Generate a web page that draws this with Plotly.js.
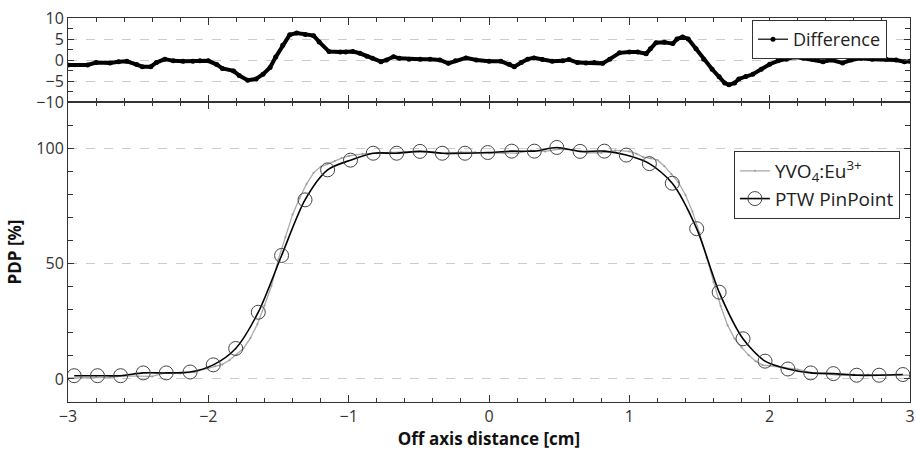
<!DOCTYPE html>
<html>
<head>
<meta charset="utf-8">
<script src="https://cdn.plot.ly/plotly-3.0.1.min.js"></script>
<style>html,body{margin:0;padding:0;background:#fff;}#chart{width:916px;height:454px;}</style>
</head>
<body>
<div id="chart"></div>
<script>
// Difference (top panel)
const diffX = [-3.0,-2.86,-2.80,-2.70,-2.64,-2.58,-2.51,-2.47,-2.41,-2.37,-2.31,-2.25,-2.18,-2.11,-2.06,-2.0,-1.94,-1.90,-1.82,-1.78,-1.72,-1.66,-1.61,-1.56,-1.52,-1.47,-1.42,-1.37,-1.31,-1.25,-1.21,-1.14,-1.06,-1.02,-0.97,-0.92,-0.87,-0.83,-0.77,-0.73,-0.68,-0.64,-0.57,-0.49,-0.42,-0.35,-0.29,-0.24,
  -0.164,-0.09,0,0.085,0.145,0.18,0.23,0.275,0.32,0.38,0.45,0.525,0.57,0.63,0.69,0.75,0.81,0.86,0.93,1.0,1.06,1.12,1.15,1.19,1.25,1.31,1.34,1.38,1.42,1.475,1.53,1.59,1.64,1.68,1.71,1.75,1.78,1.83,1.88,1.94,2.0,2.06,2.12,2.18,2.24,2.31,2.38,2.44,2.52,2.58,2.65,2.73,2.83,2.90,2.96,3.0];
const diffY = [-1.2,-1.2,-0.6,-0.7,-0.4,-0.3,-1.1,-1.6,-1.6,-0.6,0.2,-0.2,-0.3,-0.3,-0.2,-0.2,-1.1,-2.0,-2.6,-3.7,-4.8,-4.5,-3.4,-1.8,0.7,3.5,6.0,6.4,6.1,5.8,4.3,2.0,1.9,1.9,2.0,1.6,0.9,0.4,-0.4,0,0.8,0.4,0.2,0.2,0.2,0,-0.8,-0.2,
  0.5,0,-0.3,-0.3,-1.0,-1.6,-0.6,0.2,0.5,0.1,-0.3,-0.2,0.1,-0.6,-0.7,-0.6,-0.8,0.2,1.7,1.9,1.9,1.5,2.7,4.1,4.2,3.9,5.0,5.5,5.0,2.7,0.2,-2.2,-4.0,-5.5,-5.9,-5.5,-4.5,-3.9,-3.4,-2.2,-1.0,-0.2,0.2,0.7,0.4,0.1,-0.4,0,-0.7,0,0.4,0.2,0.2,0,-0.4,-0.3];

// YVO4:Eu3+ (bottom panel, grey)
const yvoX = [-3.0,-2.9,-2.8,-2.7,-2.6,-2.5,-2.4,-2.3,-2.2,-2.1,-2.0,
  -1.95,-1.9,-1.85,-1.8,-1.75,-1.7,-1.65,-1.6,-1.55,-1.5,-1.45,-1.4,-1.35,-1.3,-1.25,-1.2,-1.15,-1.1,-1.05,-1.0,
  -0.9,-0.8,-0.7,-0.6,-0.5,-0.4,-0.3,-0.2,-0.1,0,0.1,0.2,0.3,0.4,0.5,0.6,0.7,0.8,0.9,
  1.0,1.05,1.1,1.15,1.2,1.25,1.3,1.35,1.4,1.45,1.5,1.55,1.6,1.65,1.7,1.75,1.8,1.85,1.9,1.95,2.0,
  2.1,2.2,2.3,2.4,2.5,2.6,2.7,2.8,2.9,3.0];
const yvoY = [0.4,0.5,0.8,0.7,1.3,1.1,1.1,2.7,2.4,2.9,4.6,
  5.5,6.3,8.1,10.5,13.2,17.7,23.8,31.8,40.4,52,61.5,71.2,78.3,84.5,89.3,91.9,93.1,94.4,95.7,96.6,
  97.5,97.8,98.2,98.4,98.6,98.3,97.5,98.3,98.2,97.8,98.0,97.8,99.0,98.6,99.6,99.2,98.0,98.0,99.0,
  98.6,97.6,96.1,95.6,94.9,92.2,88.8,85.2,79.7,72.5,63.3,52.5,42,31.7,23.3,17.5,13.7,10.3,7.7,6.0,5.7,
  4.8,4.1,2.7,2.2,1.5,1.9,1.9,1.8,1.8,1.6];

// PTW PinPoint (bottom panel, circles)
const ptwX = [-2.956,-2.79,-2.625,-2.464,-2.30,-2.13,-1.965,-1.805,-1.644,-1.478,-1.311,-1.15,-0.987,
  -0.825,-0.658,-0.492,-0.333,-0.171,-0.009,0.162,0.323,0.483,0.649,0.822,
  0.978,1.143,1.306,1.48,1.64,1.81,1.967,2.13,2.293,2.454,2.62,2.78,2.949];
const ptwY = [1.4,1.4,1.4,2.6,2.6,3.0,6.1,13.2,28.9,53.5,77.6,90.6,94.8,
  97.8,97.8,98.6,97.8,97.8,98.1,98.7,98.7,100.3,98.6,98.7,
  97.0,93.3,84.8,65.1,37.6,17.4,7.7,4.3,2.6,2.3,1.6,1.6,1.9];

const FONT = 'Open Sans, Noto Sans, sans-serif';
const AX = '#333';

const traces = [
  // thick difference curve (no legend entry)
  {x: diffX, y: diffY, xaxis:'x2', yaxis:'y2', name:'Difference', legend:'legend2', showlegend:false,
   mode:'lines', line:{color:'#000', width:4}},
  // same data, thin line + dots, carries the legend entry
  {x: diffX, y: diffY, xaxis:'x2', yaxis:'y2', name:'Difference', legend:'legend2',
   mode:'lines+markers', line:{color:'#000', width:1.2}, marker:{color:'#000', size:5}},
  {x: yvoX, y: yvoY, xaxis:'x', yaxis:'y', name:'YVO<sub>4</sub>:Eu<sup>3+</sup>',
   mode:'lines+markers', line:{color:'#aaaaaa', width:1.3}, marker:{color:'#999', size:2}},
  {x: ptwX, y: ptwY, xaxis:'x', yaxis:'y', name:'PTW PinPoint',
   mode:'lines+markers', line:{color:'#000', width:1.6, shape:'spline', smoothing:0.8},
   marker:{symbol:'circle-open', size:14, color:'#444', line:{width:1, color:'#444'}}}
];

const commonX = {range:[-3,3], dtick:1, tick0:0, ticks:'inside', ticklen:7, tickcolor:AX,
  showline:true, linecolor:AX, linewidth:1, mirror:'ticks', showgrid:false, zeroline:false,
  minor:{ticks:'inside', dtick:0.2, tick0:0, ticklen:4, tickcolor:AX}};

const layout = {
  width:916, height:454,
  margin:{l:68, r:6, t:18, b:52},
  paper_bgcolor:'#fff', plot_bgcolor:'#fff',
  font:{family:FONT, size:16, color:'#333'},
  showlegend:true,
  xaxis: Object.assign({}, commonX, {anchor:'y', domain:[0,1],
    tickfont:{size:16, color:'#333'},
    title:{text:'<b>Off axis distance [cm]</b>', font:{size:17, color:'#111'}, standoff:6}}),
  xaxis2: Object.assign({}, commonX, {anchor:'y2', domain:[0,1], showticklabels:false, matches:'x'}),
  yaxis: {anchor:'x', domain:[0,0.78125], range:[-10,120], dtick:50, tick0:0,
    ticks:'inside', ticklen:6, tickcolor:AX, showline:true, linecolor:AX, linewidth:1, mirror:'ticks',
    showgrid:true, gridcolor:'#cccccc', griddash:'dash', gridwidth:1, zeroline:false,
    minor:{ticks:'inside', dtick:10, ticklen:5, tickcolor:AX},
    tickfont:{size:16, color:'#333'},
    title:{text:'<b>PDP [%]</b>', font:{size:17, color:'#111'}, standoff:10}},
  yaxis2: {anchor:'x2', domain:[0.78125,1], range:[-10,10], dtick:5, tick0:0,
    ticks:'inside', ticklen:6, tickcolor:AX, showline:true, linecolor:AX, linewidth:1, mirror:'ticks',
    showgrid:true, gridcolor:'#cccccc', griddash:'dash', gridwidth:1, zeroline:false,
    minor:{ticks:'inside', dtick:2.5, ticklen:5, tickcolor:AX},
    tickfont:{size:16, color:'#333'}},
  legend: {x:0.988, xanchor:'right', y:0.6536, yanchor:'top', bgcolor:'#fff',
    bordercolor:'#333', borderwidth:1, font:{size:19, color:'#222'}, itemsizing:'trace'},
  legend2: {x:0.9727, xanchor:'right', y:0.9948, yanchor:'top', bgcolor:'#fff',
    bordercolor:'#333', borderwidth:1, font:{size:18, color:'#222'}}
};

Plotly.newPlot('chart', traces, layout, {displayModeBar:false, staticPlot:true});
</script>
</body>
</html>
